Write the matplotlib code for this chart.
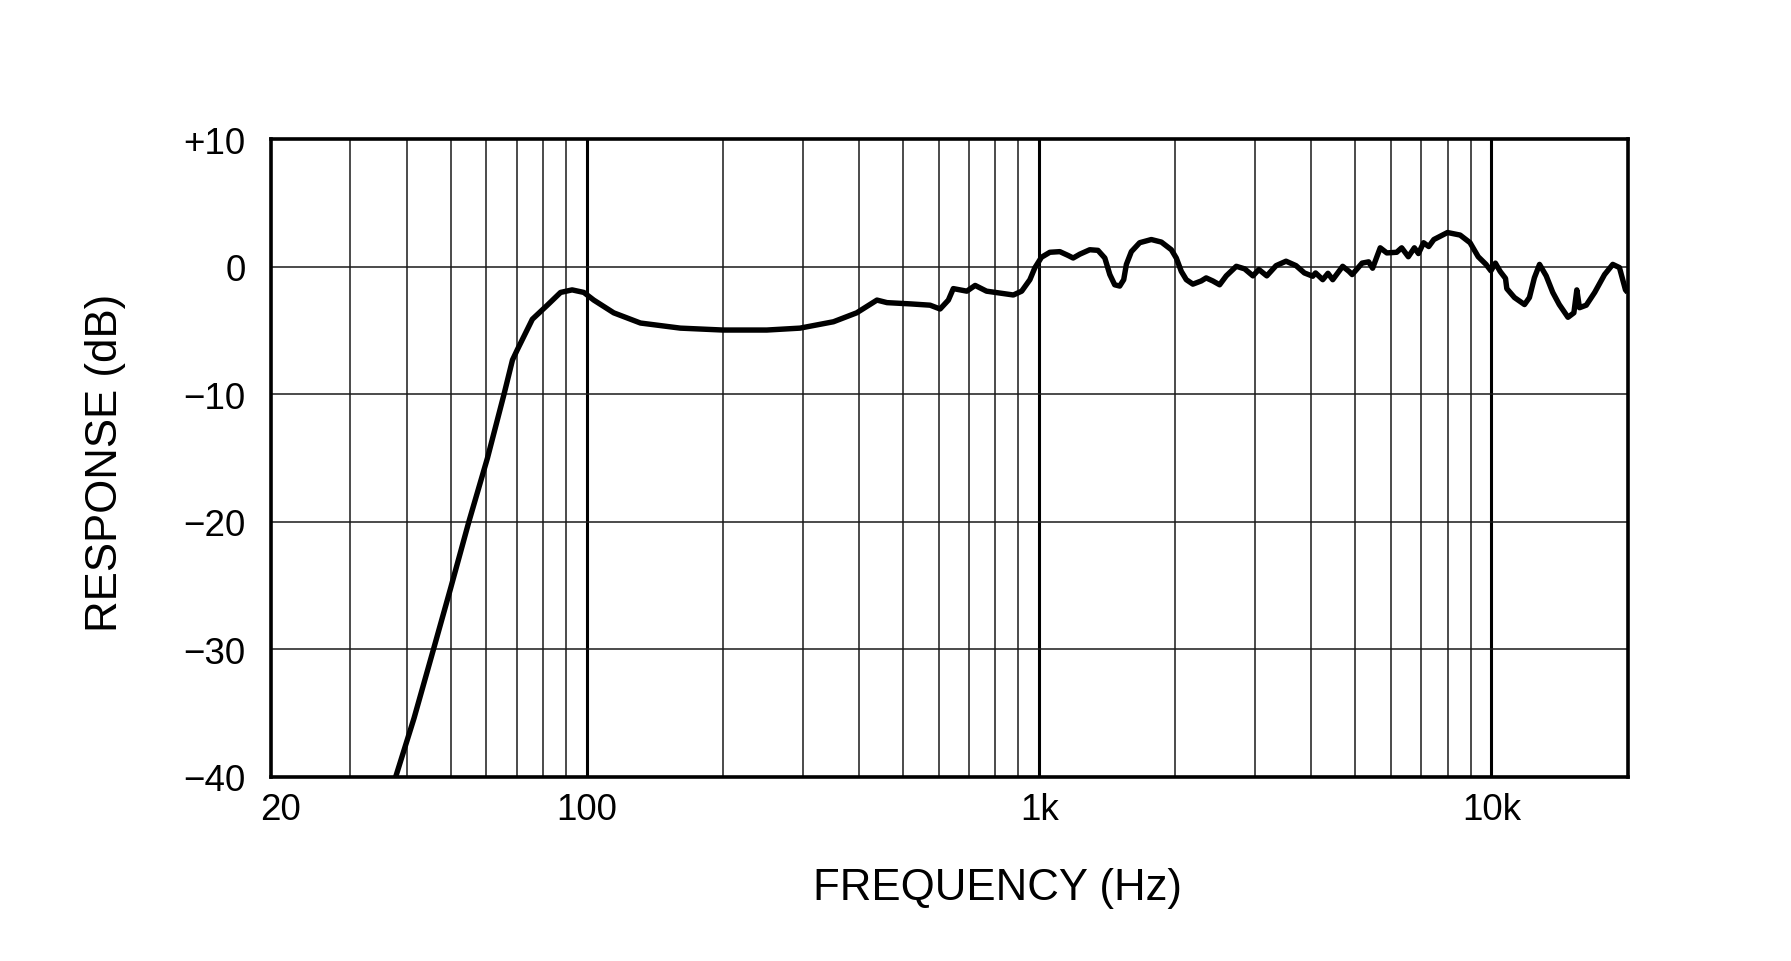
import numpy as np
import matplotlib
matplotlib.use("Agg")
import matplotlib.pyplot as plt
import matplotlib.transforms as mtransforms

plt.rcParams['font.family'] = ['Liberation Sans', 'DejaVu Sans']

# frequency response (Hz, dB)
freq = [37.8, 41.5, 45.9, 50, 54.9, 60.3, 65.6, 68.5, 70.2, 75.8, 81.8, 87.5,
        92.8, 98.5, 103.6, 114.7, 131.4, 161, 200, 250, 296, 351, 395, 438,
        461, 520, 574, 604, 630, 646, 692, 722, 765, 877, 915, 954, 978,
        1012, 1056, 1111, 1159, 1189, 1230, 1294, 1349, 1397, 1433, 1469,
        1507, 1538, 1559, 1599, 1668, 1770, 1863, 1960, 2010, 2062, 2115,
        2187, 2282, 2340, 2421, 2506, 2592, 2728, 2846, 2969, 3060, 3186,
        3340, 3514, 3698, 3858, 4026, 4084, 4236, 4350, 4457, 4688, 4842,
        4921, 5175, 5350, 5460, 5580, 5676, 5869, 6172, 6330, 6549, 6753,
        6895, 7077, 7265, 7457, 7993, 8524, 8966, 9347, 9725, 9970, 10200,
        10450, 10740, 10810, 11240, 11830, 12130, 12440, 12770, 13210, 13660,
        14120, 14760, 15210, 15440, 15650, 16200, 16910, 17780, 18540, 19180,
        19780, 20000]
resp = [-40.0, -35.4, -29.9, -25.2, -19.95, -15.0, -10.0, -7.3, -6.5, -4.1,
        -3.0, -2.0, -1.8, -2.0, -2.6, -3.6, -4.4, -4.8, -4.95, -4.95, -4.8,
        -4.3, -3.6, -2.6, -2.8, -2.9, -3.0, -3.3, -2.6, -1.7, -1.9, -1.45,
        -1.9, -2.2, -1.9, -1.0, -0.08, 0.76, 1.15, 1.2, 0.9, 0.7, 1.0, 1.35,
        1.3, 0.7, -0.6, -1.4, -1.5, -1.0, 0.2, 1.2, 1.9, 2.15, 1.95, 1.35,
        0.7, -0.35, -1.0, -1.35, -1.1, -0.86, -1.1, -1.4, -0.7, 0.05, -0.15,
        -0.7, -0.2, -0.7, 0.1, 0.45, 0.1, -0.47, -0.73, -0.47, -1.0, -0.5,
        -1.0, 0.05, -0.35, -0.6, 0.3, 0.4, -0.1, 0.8, 1.5, 1.1, 1.15, 1.5,
        0.8, 1.5, 1.05, 1.9, 1.6, 2.15, 2.7, 2.5, 1.9, 0.8, 0.2, -0.3, 0.3,
        -0.35, -0.9, -1.7, -2.4, -2.95, -2.4, -0.85, 0.2, -0.7, -2.0, -2.95,
        -3.95, -3.6, -1.8, -3.2, -3.0, -2.0, -0.6, 0.2, -0.05, -1.8, -2.0]

x_ticks = [20, 100, 1000, 10000]
x_tick_labels = ["20", "100", "1k", "10k"]
y_ticks = [10, 0, -10, -20, -30, -40]
y_tick_labels = ["+10", "0", "\u221210", "\u221220", "\u221230", "\u221240"]

fig = plt.figure(figsize=(17.91, 9.62), dpi=100)
ax = fig.add_axes([0.1511, 0.1914, 0.7577, 0.6626])

ax.set_xscale('log')
ax.set_xlim(20, 20000)
ax.set_ylim(-40, 10)

# grid: minor lines thin, decade lines heavier
for dec in [10, 100, 1000, 10000]:
    for m in range(2, 10):
        f = dec * m
        if 20 < f < 20000:
            ax.axvline(f, color='#1a1a1a', lw=1.1, zorder=1)
for f in [100, 1000, 10000]:
    ax.axvline(f, color='black', lw=2.2, zorder=1)
for y in [0, -10, -20, -30]:
    ax.axhline(y, color='#1a1a1a', lw=1.1, zorder=1)

ax.plot(freq, resp, color='black', lw=3.9, solid_joinstyle='round',
        solid_capstyle='butt', zorder=3)

ax.set_xticks(x_ticks)
ax.set_xticklabels(x_tick_labels)
ax.xaxis.set_minor_locator(matplotlib.ticker.NullLocator())
ax.set_yticks(y_ticks)
ax.set_yticklabels(y_tick_labels)
ax.tick_params(axis='both', length=0, labelsize=26.5)
ax.tick_params(axis='x', pad=11)
ax.tick_params(axis='y', pad=18)

# the "20" label sits a little right of the frame edge
lbl20 = ax.get_xticklabels()[0]
lbl20.set_transform(lbl20.get_transform() +
                    mtransforms.ScaledTranslation(0.10, 0, fig.dpi_scale_trans))

for s in ax.spines.values():
    s.set_linewidth(2.6)
    s.set_zorder(4)

ax.set_xlabel("FREQUENCY (Hz)", fontsize=31.5)
ax.xaxis.label.set_va('center')
ax.xaxis.set_label_coords(0.536, -0.173)
ax.set_ylabel("RESPONSE (dB)", fontsize=31.5)
ax.yaxis.label.set_va('center')
ax.yaxis.set_label_coords(-0.122, 0.494)

fig.savefig("out.png", dpi=100, facecolor='white')
